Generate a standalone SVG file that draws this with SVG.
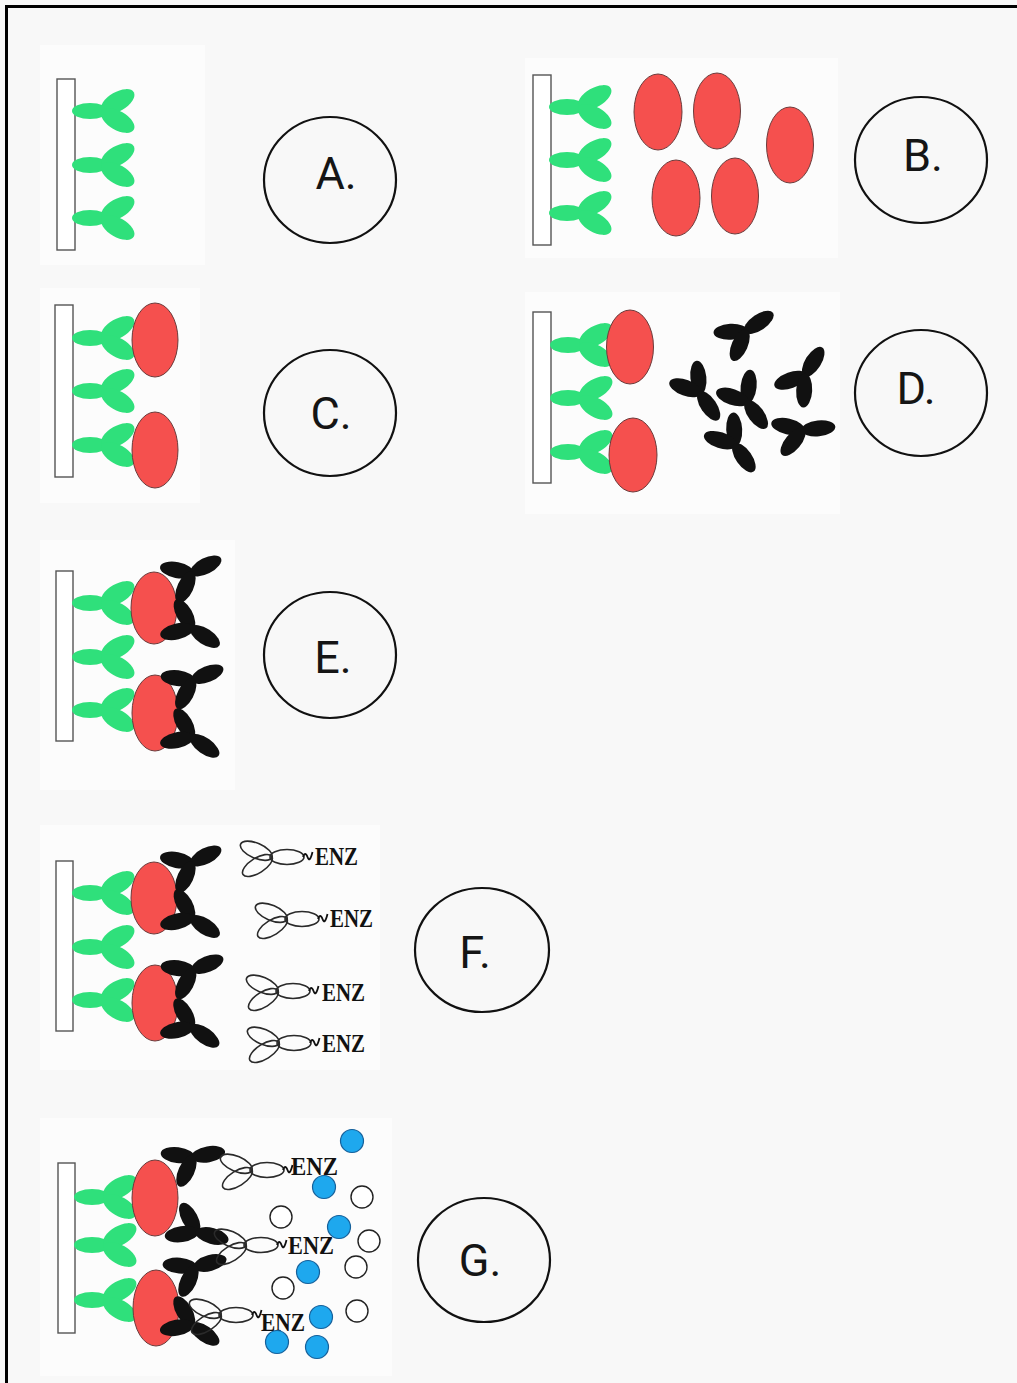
<svg xmlns="http://www.w3.org/2000/svg" xmlns:xlink="http://www.w3.org/1999/xlink" width="1017" height="1383" viewBox="0 0 1017 1383">
  <style>
    .plate { fill: #ffffff; stroke: #555; stroke-width: 1.4; }
    .green { fill: #2fe07b; }
    .red { fill: #f5504e; stroke: #6b3b3b; stroke-width: 1; }
    .blk { fill: #111; }
    .ol { fill: none; stroke: #2a2a2a; stroke-width: 1.6; }
    .wg { fill: none; stroke: #111; stroke-width: 1.8; }
    .enz { font-family: "Liberation Serif", serif; font-weight: bold; font-size: 26px; fill: #111; }
    .ring { fill: none; stroke: #111; stroke-width: 2.2; }
    .lbl { font-family: Roboto, "Liberation Sans", sans-serif; font-size: 45px; fill: #151515; text-anchor: middle; }
    .blue { fill: #1ea8ee; stroke: #16609a; stroke-width: 1.2; }
    .open { fill: #fff; stroke: #222; stroke-width: 1.4; }
    .pane { fill: #fcfcfc; }
  </style>
  <defs>
    <!-- one arm of a black antibody, pointing along +x from the hinge -->
    <ellipse id="bl" class="blk" cx="15.5" cy="0" rx="17" ry="8"/>
    <!-- one arm of an outlined enzyme-labelled antibody -->
    <ellipse id="olb" class="ol" cx="16" cy="0" rx="17" ry="7.5"/>
    <!-- capture antibody: stem starts at origin, arms open to the right -->
    <g id="gab" class="green">
      <ellipse cx="17" cy="0" rx="18" ry="8"/>
      <ellipse cx="17" cy="0" rx="18.5" ry="9.5" transform="translate(30,-1) rotate(-30)"/>
      <ellipse cx="17" cy="0" rx="18.5" ry="9.5" transform="translate(30,1) rotate(30)"/>
    </g>
    <!-- enzyme-labelled antibody, hinge at origin, arms open to the left -->
    <g id="eab">
      <use xlink:href="#olb" transform="rotate(203)"/>
      <use xlink:href="#olb" transform="rotate(148)"/>
      <use xlink:href="#olb"/>
      <path class="wg" d="M32,0 c1.5,-4 3,-4 4.5,0 s3,3 5,-5"/>
    </g>
    <!-- plate with capture antibodies, two bound antigens and detection antibodies -->
    <g id="sandwich">
      <rect class="plate" x="0" y="0" width="17" height="170"/>
      <use xlink:href="#gab" x="17" y="32"/>
      <use xlink:href="#gab" x="17" y="86"/>
      <use xlink:href="#gab" x="17" y="139"/>
      <ellipse class="red" cx="98" cy="37" rx="23" ry="36"/>
      <ellipse class="red" cx="99" cy="142" rx="23" ry="38"/>
      <g transform="translate(136,2)"><use xlink:href="#bl" transform="rotate(191)"/><use xlink:href="#bl" transform="rotate(-27)"/><use xlink:href="#bl" transform="rotate(115)"/></g>
      <g transform="translate(136,57)"><use xlink:href="#bl" transform="rotate(241)"/><use xlink:href="#bl" transform="rotate(167)"/><use xlink:href="#bl" transform="rotate(33)"/></g>
      <g transform="translate(137,109)"><use xlink:href="#bl" transform="rotate(187)"/><use xlink:href="#bl" transform="rotate(-22)"/><use xlink:href="#bl" transform="rotate(118)"/></g>
      <g transform="translate(136,166)"><use xlink:href="#bl" transform="rotate(240)"/><use xlink:href="#bl" transform="rotate(168)"/><use xlink:href="#bl" transform="rotate(35)"/></g>
    </g>
  </defs>

  <!-- page -->
  <rect x="0" y="0" width="1017" height="1383" fill="#f8f8f8"/>
  <g id="panes">
    <rect class="pane" x="40" y="45" width="165" height="220"/>
    <rect class="pane" x="525" y="58" width="313" height="200"/>
    <rect class="pane" x="40" y="288" width="160" height="215"/>
    <rect class="pane" x="525" y="292" width="315" height="222"/>
    <rect class="pane" x="40" y="540" width="195" height="250"/>
    <rect class="pane" x="40" y="825" width="340" height="245"/>
    <rect class="pane" x="40" y="1118" width="352" height="258"/>
  </g>
  <path d="M6.5,1383 V6.5 H1017" fill="none" stroke="#000" stroke-width="3"/>

  <!-- A: coated plate -->
  <g id="stepA">
    <rect class="plate" x="57" y="79" width="18" height="171"/>
    <use xlink:href="#gab" x="73" y="111"/>
    <use xlink:href="#gab" x="73" y="165"/>
    <use xlink:href="#gab" x="73" y="218"/>
    <ellipse class="ring" cx="330" cy="180" rx="66" ry="63"/>
    <text class="lbl" x="336" y="189">A.</text>
  </g>

  <!-- B: antigen added -->
  <g id="stepB">
    <rect class="plate" x="533" y="75" width="18" height="170"/>
    <use xlink:href="#gab" x="550" y="107"/>
    <use xlink:href="#gab" x="550" y="160"/>
    <use xlink:href="#gab" x="550" y="213"/>
    <ellipse class="red" cx="658" cy="112" rx="24" ry="38"/>
    <ellipse class="red" cx="717" cy="111" rx="23.5" ry="38"/>
    <ellipse class="red" cx="790" cy="145" rx="23.5" ry="38"/>
    <ellipse class="red" cx="676" cy="198" rx="24" ry="38"/>
    <ellipse class="red" cx="735" cy="196" rx="23.5" ry="38"/>
    <ellipse class="ring" cx="921" cy="160" rx="66" ry="63"/>
    <text class="lbl" x="923" y="171">B.</text>
  </g>

  <!-- C: antigen captured -->
  <g id="stepC">
    <rect class="plate" x="55" y="305" width="18" height="172"/>
    <use xlink:href="#gab" x="73" y="338"/>
    <use xlink:href="#gab" x="73" y="391"/>
    <use xlink:href="#gab" x="73" y="445"/>
    <ellipse class="red" cx="155" cy="340" rx="23" ry="37"/>
    <ellipse class="red" cx="155" cy="450" rx="23" ry="38"/>
    <ellipse class="ring" cx="330" cy="413" rx="66" ry="63"/>
    <text class="lbl" x="331" y="429">C.</text>
  </g>

  <!-- D: detection antibodies added -->
  <g id="stepD">
    <rect class="plate" x="533" y="312" width="18" height="171"/>
    <use xlink:href="#gab" x="551" y="345"/>
    <use xlink:href="#gab" x="551" y="398"/>
    <use xlink:href="#gab" x="551" y="452"/>
    <ellipse class="red" cx="630" cy="347" rx="23.5" ry="37"/>
    <ellipse class="red" cx="633" cy="455" rx="24" ry="37"/>
    <g transform="translate(746,331)"><use xlink:href="#bl" transform="rotate(177)"/><use xlink:href="#bl" transform="rotate(-34)"/><use xlink:href="#bl" transform="rotate(114)"/></g>
    <g transform="translate(700,393)"><use xlink:href="#bl" transform="rotate(-96)"/><use xlink:href="#bl" transform="rotate(200)"/><use xlink:href="#bl" transform="rotate(56)"/></g>
    <g transform="translate(747,402)"><use xlink:href="#bl" transform="rotate(-84)"/><use xlink:href="#bl" transform="rotate(199)"/><use xlink:href="#bl" transform="rotate(54)"/></g>
    <g transform="translate(735,445)"><use xlink:href="#bl" transform="rotate(-93)"/><use xlink:href="#bl" transform="rotate(198)"/><use xlink:href="#bl" transform="rotate(55)"/></g>
    <g transform="translate(805,375)"><use xlink:href="#bl" transform="rotate(-58)"/><use xlink:href="#bl" transform="rotate(160)"/><use xlink:href="#bl" transform="rotate(93)"/></g>
    <g transform="translate(803,430)"><use xlink:href="#bl" transform="rotate(193)"/><use xlink:href="#bl" transform="rotate(-6)"/><use xlink:href="#bl" transform="rotate(130)"/></g>
    <ellipse class="ring" cx="921" cy="393" rx="66" ry="63"/>
    <text class="lbl" x="916" y="404">D.</text>
  </g>

  <!-- E: detection antibodies bound -->
  <g id="stepE">
    <use xlink:href="#sandwich" x="56" y="571"/>
    <ellipse class="ring" cx="330" cy="655" rx="66" ry="63"/>
    <text class="lbl" x="333" y="673">E.</text>
  </g>

  <!-- F: enzyme-labelled antibodies added -->
  <g id="stepF">
    <use xlink:href="#sandwich" x="56" y="861"/>
    <use xlink:href="#eab" transform="translate(271,857)"/>
    <text class="enz" x="315" y="865" textLength="43" lengthAdjust="spacingAndGlyphs">ENZ</text>
    <use xlink:href="#eab" transform="translate(286,919)"/>
    <text class="enz" x="330" y="927" textLength="43" lengthAdjust="spacingAndGlyphs">ENZ</text>
    <use xlink:href="#eab" transform="translate(277,991)"/>
    <text class="enz" x="322" y="1001" textLength="43" lengthAdjust="spacingAndGlyphs">ENZ</text>
    <use xlink:href="#eab" transform="translate(278,1043)"/>
    <text class="enz" x="322" y="1052" textLength="43" lengthAdjust="spacingAndGlyphs">ENZ</text>
    <ellipse class="ring" cx="482" cy="950" rx="67" ry="62"/>
    <text class="lbl" x="475" y="968">F.</text>
  </g>

  <!-- G: substrate turned over by the bound enzyme -->
  <g id="stepG">
    <rect class="plate" x="58" y="1163" width="17" height="170"/>
    <use xlink:href="#gab" x="75" y="1197"/>
    <use xlink:href="#gab" x="75" y="1245"/>
    <use xlink:href="#gab" x="75" y="1300"/>
    <ellipse class="red" cx="155" cy="1198" rx="23" ry="38"/>
    <ellipse class="red" cx="156" cy="1308" rx="23" ry="38"/>
    <g transform="translate(193,1157)"><use xlink:href="#bl" transform="rotate(187)"/><use xlink:href="#bl" transform="rotate(-10)"/><use xlink:href="#bl" transform="rotate(115)"/></g>
    <g transform="translate(197,1232)"><use xlink:href="#bl" transform="rotate(242)"/><use xlink:href="#bl" transform="rotate(172)"/><use xlink:href="#bl" transform="rotate(15)"/></g>
    <g transform="translate(195,1267)"><use xlink:href="#bl" transform="rotate(185)"/><use xlink:href="#bl" transform="rotate(-15)"/><use xlink:href="#bl" transform="rotate(115)"/></g>
    <g transform="translate(192,1325)"><use xlink:href="#bl" transform="rotate(240)"/><use xlink:href="#bl" transform="rotate(170)"/><use xlink:href="#bl" transform="rotate(35)"/></g>
    <use xlink:href="#eab" transform="translate(251,1170)"/>
    <text class="enz" x="291" y="1175" textLength="47" lengthAdjust="spacingAndGlyphs">ENZ</text>
    <use xlink:href="#eab" transform="translate(245,1245)"/>
    <text class="enz" x="288" y="1254" textLength="46" lengthAdjust="spacingAndGlyphs">ENZ</text>
    <use xlink:href="#eab" transform="translate(220,1315)"/>
    <text class="enz" x="261" y="1331" textLength="44" lengthAdjust="spacingAndGlyphs">ENZ</text>
    <g id="product">
      <circle class="blue" cx="352" cy="1141" r="11.5"/>
      <circle class="blue" cx="324" cy="1187" r="11.5"/>
      <circle class="blue" cx="339" cy="1227" r="11.5"/>
      <circle class="blue" cx="308" cy="1272" r="11.5"/>
      <circle class="blue" cx="321" cy="1317" r="11.5"/>
      <circle class="blue" cx="277" cy="1342" r="11.5"/>
      <circle class="blue" cx="317" cy="1347" r="11.5"/>
    </g>
    <g id="substrate">
      <circle class="open" cx="362" cy="1197" r="11"/>
      <circle class="open" cx="281" cy="1217" r="11"/>
      <circle class="open" cx="369" cy="1241" r="11"/>
      <circle class="open" cx="356" cy="1267" r="11"/>
      <circle class="open" cx="283" cy="1288" r="11"/>
      <circle class="open" cx="357" cy="1311" r="11"/>
    </g>
    <ellipse class="ring" cx="484" cy="1260" rx="66" ry="62"/>
    <text class="lbl" x="480" y="1276">G.</text>
  </g>
</svg>
